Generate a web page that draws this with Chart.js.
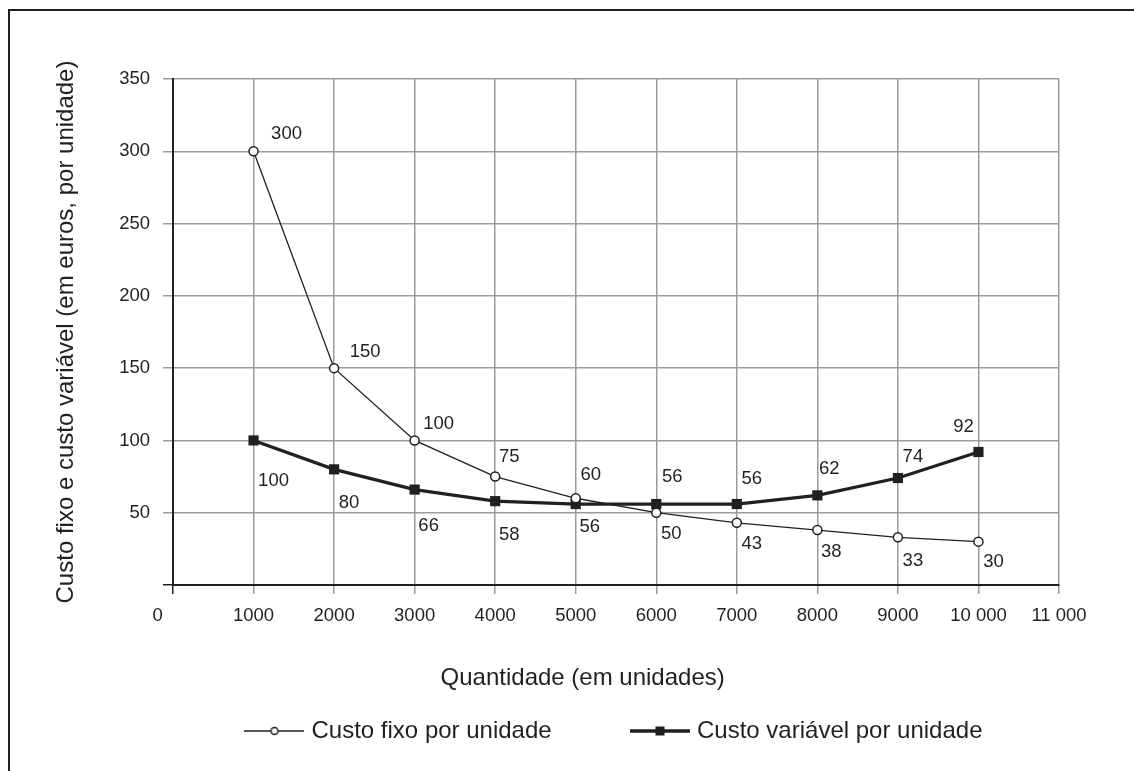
<!DOCTYPE html>
<html>
<head>
<meta charset="utf-8">
<script src="https://cdn.jsdelivr.net/npm/chart.js@4"></script>
<style>
  html, body { margin: 0; padding: 0; background: #ffffff; }
  #wrap { position: relative; width: 1134px; height: 771px; overflow: hidden; background: #ffffff; }
  #c { position: absolute; left: 0; top: 0; }
  #frame { position: absolute; left: 7.5px; top: 9px; width: 1300px; height: 900px;
           border-top: 2.5px solid #231f20; border-left: 2.5px solid #231f20; pointer-events: none; }
</style>
</head>
<body>
<div id="wrap">
  <canvas id="c" width="1134" height="771"></canvas>
  <div id="frame"></div>
</div>
<script>
// ---------- data ----------
const quantities = [1000, 2000, 3000, 4000, 5000, 6000, 7000, 8000, 9000, 10000];
const custoFixo = [300, 150, 100, 75, 60, 50, 43, 38, 33, 30];
const custoVariavel = [100, 80, 66, 58, 56, 56, 56, 62, 74, 92];
const seriesNames = ['Custo fixo por unidade', 'Custo variável por unidade'];
const xTickLabels = ['0', '1000', '2000', '3000', '4000', '5000', '6000', '7000', '8000', '9000', '10 000', '11 000'];
const yTickLabels = ['', '50', '100', '150', '200', '250', '300', '350'];
const xTitle = 'Quantidade (em unidades)';
const yTitle = 'Custo fixo e custo variável (em euros, por unidade)';

// ---------- label placement (styling, not data) ----------
const fixoLabelOffsets = [[33, -17], [31, -16], [24, -17], [14, -20], [15, -23], [15, 21], [15, 21], [14, 22], [15, 24], [15, 20]];
const variavelLabelOffsets = [[20, 40], [15, 34], [14, 36], [14, 34], [14, 23], [16, -27], [15, -25], [12, -26], [15, -21], [-15, -25]];

// ---------- style ----------
const FONT = "'Liberation Sans', Arial, Helvetica, sans-serif";
const TEXT = '#231f20';
const GRID = '#9b9b9b';
const TICK_SIZE = 18.5;
const TITLE_SIZE = 24;
const sp = n => ' '.repeat(n);

function legendIcon(kind) {
  const c = document.createElement('canvas');
  c.width = 60; c.height = 16;
  const g = c.getContext('2d');
  g.strokeStyle = TEXT;
  if (kind === 'circle') {
    g.lineWidth = 1.3;
    g.beginPath(); g.moveTo(0, 8); g.lineTo(60, 8); g.stroke();
    g.beginPath(); g.arc(30, 8, 3.5, 0, Math.PI * 2);
    g.fillStyle = '#ffffff'; g.fill();
    g.lineWidth = 1.5; g.stroke();
  } else {
    g.lineWidth = 3.4;
    g.beginPath(); g.moveTo(0, 8); g.lineTo(60, 8); g.stroke();
    g.fillStyle = TEXT; g.fillRect(25.5, 3.5, 9, 9);
  }
  return c;
}

const pointLabelPlugin = {
  id: 'pointLabels',
  afterDatasetsDraw(chart) {
    const ctx = chart.ctx;
    const offsets = [fixoLabelOffsets, variavelLabelOffsets];
    ctx.save();
    ctx.font = TICK_SIZE + 'px ' + FONT;
    ctx.fillStyle = TEXT;
    ctx.textAlign = 'center';
    ctx.textBaseline = 'middle';
    chart.data.datasets.forEach((ds, i) => {
      const meta = chart.getDatasetMeta(i);
      meta.data.forEach((pt, j) => {
        const [dx, dy] = offsets[i][j];
        ctx.fillText(String(ds.data[j].y), pt.x + dx, pt.y + dy);
      });
    });
    ctx.restore();
  }
};

const chart = new Chart(document.getElementById('c'), {
  type: 'line',
  data: {
    datasets: [
      {
        label: seriesNames[0],
        data: quantities.map((q, i) => ({ x: q, y: custoFixo[i] })),
        borderColor: TEXT,
        borderWidth: 1.3,
        tension: 0,
        pointStyle: 'circle',
        pointRadius: 4.5,
        pointBorderWidth: 1.5,
        pointBackgroundColor: '#ffffff',
        pointBorderColor: TEXT,
        fill: false
      },
      {
        label: seriesNames[1],
        data: quantities.map((q, i) => ({ x: q, y: custoVariavel[i] })),
        borderColor: TEXT,
        borderWidth: 3.2,
        tension: 0,
        pointStyle: 'rect',
        pointRadius: 7.2,
        pointBorderWidth: 0,
        pointBackgroundColor: TEXT,
        pointBorderColor: TEXT,
        fill: false
      }
    ]
  },
  options: {
    responsive: false,
    animation: false,
    layout: { padding: { left: 0, top: 79, right: 75, bottom: 18 } },
    scales: {
      x: {
        type: 'linear',
        min: 0, max: 11000,
        ticks: {
          stepSize: 1000,
          autoSkip: false,
          maxRotation: 0,
          padding: 10.9,
          color: TEXT,
          font: { family: FONT, size: TICK_SIZE },
          callback: (v) => {
            const idx = Math.round(v / 1000);
            const lab = xTickLabels[idx];
            return idx === 0 ? lab + sp(6) : lab;
          }
        },
        grid: {
          color: GRID, lineWidth: 1.5, tickLength: 9, drawTicks: true,
          tickColor: (c) => (c.tick && c.tick.value === 0 ? TEXT : GRID)
        },
        border: { display: true, color: TEXT, width: 2 },
        title: {
          display: true,
          text: xTitle + sp(10),
          color: TEXT,
          font: { family: FONT, size: TITLE_SIZE },
          padding: { top: 0, bottom: 16.6 }
        },
        afterFit: (s) => { s.height = 124; }
      },
      y: {
        type: 'linear',
        min: 0, max: 350,
        ticks: {
          stepSize: 50,
          padding: 13,
          color: TEXT,
          font: { family: FONT, size: TICK_SIZE },
          callback: (v) => yTickLabels[Math.round(v / 50)]
        },
        grid: {
          color: GRID, lineWidth: 1.5, tickLength: 10, drawTicks: true,
          tickColor: (c) => (c.tick && c.tick.value === 0 ? TEXT : GRID)
        },
        border: { display: true, color: TEXT, width: 2 },
        title: {
          display: true,
          text: yTitle,
          color: TEXT,
          font: { family: FONT, size: TITLE_SIZE },
          padding: { top: 51.6, bottom: 0 }
        },
        afterFit: (s) => { s.width = 173; }
      }
    },
    plugins: {
      legend: {
        display: true,
        position: 'bottom',
        align: 'center',
        fullSize: false,
        labels: {
          usePointStyle: true,
          pointStyleWidth: 50,
          padding: 10,
          color: TEXT,
          font: { family: FONT, size: TITLE_SIZE },
          generateLabels: (ch) => [
            { text: seriesNames[0] + sp(11), pointStyle: legendIcon('circle'), datasetIndex: 0, hidden: false, lineWidth: 0, fillStyle: TEXT, strokeStyle: TEXT, fontColor: TEXT },
            { text: seriesNames[1], pointStyle: legendIcon('rect'), datasetIndex: 1, hidden: false, lineWidth: 0, fillStyle: TEXT, strokeStyle: TEXT, fontColor: TEXT }
          ]
        },
        onClick: () => {}
      },
      tooltip: { enabled: false }
    }
  },
  plugins: [pointLabelPlugin]
});
</script>
</body>
</html>
